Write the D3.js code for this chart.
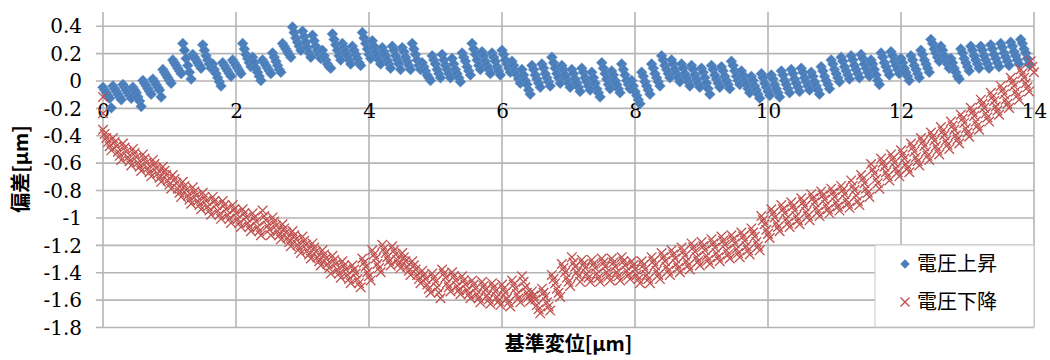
<!DOCTYPE html>
<html>
<head>
<meta charset="utf-8">
<script src="https://cdn.jsdelivr.net/npm/d3@7/dist/d3.min.js"></script>
<style>
  html, body { margin: 0; padding: 0; background: #ffffff; }
  #chart { width: 1050px; height: 360px; }
</style>
</head>
<body>
<div id="chart"></div>
<script>
// Displacement step of the measurement [μm]
const xStep = 0.025;
const xTicks = [0, 2, 4, 6, 8, 10, 12, 14];
const xTickLabels = ["0", "2", "4", "6", "8", "10", "12", "14"];
const yTicks = [0.4, 0.2, 0, -0.2, -0.4, -0.6, -0.8, -1, -1.2, -1.4, -1.6, -1.8];
const yTickLabels = ["0.4", "0.2", "0", "-0.2", "-0.4", "-0.6", "-0.8", "-1", "-1.2", "-1.4", "-1.6", "-1.8"];
const seriesNames = ["電圧上昇", "電圧下降"];

// 電圧上昇 (voltage rising), one value every 0.025 μm from 0 (12 values per line = 0.3 μm)
const riseValues = [
  -0.05, -0.07, -0.09, -0.11, -0.13, -0.2, -0.04, -0.06, -0.08, -0.1, -0.12, -0.14,
  -0.03, -0.05, -0.07, -0.09, -0.11, -0.13, -0.05, -0.07, -0.09, -0.12, -0.15, -0.19,
  0.0, -0.02, -0.04, -0.06, -0.08, -0.1, 0.01, -0.01, -0.03, -0.05, -0.07, -0.12,
  0.08, 0.06, 0.04, 0.02, 0.0, -0.02, 0.15, 0.13, 0.11, 0.09, 0.07, 0.05,
  0.27, 0.22, 0.16, 0.11, 0.06, 0.01, 0.19, 0.17, 0.15, 0.13, 0.11, 0.09,
  0.26, 0.22, 0.18, 0.15, 0.12, 0.09, 0.12, 0.08, 0.05, 0.02, -0.01, -0.04,
  0.13, 0.11, 0.09, 0.07, 0.05, 0.03, 0.15, 0.13, 0.11, 0.09, 0.07, 0.05,
  0.27, 0.23, 0.19, 0.16, 0.13, 0.1, 0.17, 0.13, 0.09, 0.06, 0.03, 0.0,
  0.15, 0.13, 0.11, 0.09, 0.07, 0.05, 0.2, 0.17, 0.14, 0.11, 0.08, 0.06,
  0.27, 0.25, 0.23, 0.21, 0.19, 0.17, 0.39, 0.35, 0.31, 0.28, 0.25, 0.22,
  0.36, 0.32, 0.28, 0.24, 0.2, 0.17, 0.33, 0.29, 0.25, 0.22, 0.19, 0.16,
  0.22, 0.18, 0.15, 0.12, 0.1, 0.09, 0.34, 0.3, 0.26, 0.22, 0.18, 0.15,
  0.27, 0.24, 0.21, 0.18, 0.15, 0.12, 0.25, 0.22, 0.19, 0.16, 0.13, 0.11,
  0.35, 0.31, 0.27, 0.23, 0.19, 0.16, 0.29, 0.25, 0.21, 0.18, 0.15, 0.12,
  0.24, 0.21, 0.18, 0.15, 0.12, 0.09, 0.25, 0.22, 0.18, 0.15, 0.12, 0.08,
  0.24, 0.21, 0.17, 0.14, 0.11, 0.08, 0.27, 0.23, 0.19, 0.15, 0.11, 0.08,
  0.13, 0.1, 0.07, 0.04, 0.02, 0.0, 0.18, 0.15, 0.12, 0.08, 0.05, 0.02,
  0.19, 0.15, 0.11, 0.08, 0.05, 0.02, 0.16, 0.12, 0.08, 0.05, 0.02, -0.01,
  0.2, 0.17, 0.14, 0.1, 0.07, 0.04, 0.27, 0.23, 0.19, 0.15, 0.11, 0.08,
  0.21, 0.18, 0.14, 0.11, 0.08, 0.05, 0.2, 0.17, 0.14, 0.1, 0.07, 0.04,
  0.22, 0.19, 0.15, 0.12, 0.09, 0.06, 0.14, 0.11, 0.07, 0.04, 0.01, -0.02,
  0.08, 0.04, 0.0, -0.03, -0.07, -0.1, 0.11, 0.08, 0.04, 0.01, -0.02, -0.05,
  0.12, 0.09, 0.05, 0.02, -0.01, -0.04, 0.17, 0.13, 0.09, 0.05, 0.02, -0.02,
  0.11, 0.08, 0.04, 0.01, -0.02, -0.05, 0.08, 0.05, 0.01, -0.02, -0.05, -0.08,
  0.09, 0.06, 0.02, -0.01, -0.04, -0.07, 0.06, 0.02, -0.02, -0.06, -0.09, -0.12,
  0.13, 0.09, 0.05, 0.01, -0.03, -0.06, 0.07, 0.04, 0.0, -0.03, -0.06, -0.09,
  0.12, 0.08, 0.04, 0.0, -0.03, -0.06, 0.0, -0.04, -0.08, -0.11, -0.14, -0.17,
  0.06, 0.03, -0.01, -0.04, -0.07, -0.1, 0.12, 0.09, 0.05, 0.02, -0.01, -0.04,
  0.18, 0.15, 0.11, 0.08, 0.05, 0.02, 0.15, 0.12, 0.08, 0.05, 0.02, -0.01,
  0.12, 0.09, 0.05, 0.02, -0.01, -0.04, 0.11, 0.08, 0.04, 0.01, -0.02, -0.05,
  0.09, 0.06, 0.02, -0.02, -0.06, -0.1, 0.11, 0.08, 0.04, 0.01, -0.02, -0.05,
  0.1, 0.07, 0.03, 0.0, -0.03, -0.06, 0.14, 0.11, 0.07, 0.03, 0.0, -0.03,
  0.07, 0.04, 0.0, -0.03, -0.06, -0.09, 0.03, 0.0, -0.04, -0.07, -0.1, -0.13,
  0.05, 0.02, -0.02, -0.05, -0.08, -0.11, 0.04, 0.01, -0.03, -0.06, -0.09, -0.12,
  0.07, 0.04, 0.0, -0.03, -0.06, -0.09, 0.08, 0.05, 0.01, -0.02, -0.05, -0.08,
  0.09, 0.06, 0.02, -0.01, -0.04, -0.07, 0.06, 0.03, -0.01, -0.04, -0.07, -0.1,
  0.1, 0.07, 0.03, 0.0, -0.03, -0.06, 0.15, 0.12, 0.08, 0.05, 0.02, -0.01,
  0.17, 0.14, 0.1, 0.07, 0.04, 0.01, 0.18, 0.15, 0.11, 0.08, 0.05, 0.02,
  0.19, 0.16, 0.12, 0.09, 0.06, 0.03, 0.15, 0.12, 0.08, 0.04, 0.0, -0.03,
  0.2, 0.17, 0.13, 0.1, 0.07, 0.04, 0.21, 0.18, 0.14, 0.11, 0.08, 0.05,
  0.16, 0.13, 0.09, 0.06, 0.03, 0.0, 0.18, 0.15, 0.11, 0.08, 0.05, 0.02,
  0.22, 0.19, 0.15, 0.12, 0.09, 0.06, 0.3, 0.27, 0.23, 0.2, 0.17, 0.14,
  0.25, 0.22, 0.18, 0.15, 0.12, 0.09, 0.16, 0.13, 0.09, 0.06, 0.03, 0.01,
  0.23, 0.2, 0.16, 0.13, 0.1, 0.07, 0.25, 0.22, 0.18, 0.15, 0.12, 0.09,
  0.25, 0.22, 0.18, 0.15, 0.12, 0.09, 0.26, 0.23, 0.19, 0.16, 0.13, 0.1,
  0.27, 0.24, 0.2, 0.17, 0.14, 0.11, 0.28, 0.25, 0.21, 0.18, 0.15, 0.12,
  0.3, 0.27, 0.23, 0.2, 0.16, 0.12
];

// 電圧下降 (voltage falling), one value every 0.025 μm from 0 (12 values per line = 0.3 μm)
const fallValues = [
  -0.36, -0.39, -0.42, -0.45, -0.48, -0.51, -0.42, -0.45, -0.48, -0.52, -0.55, -0.58,
  -0.46, -0.49, -0.52, -0.56, -0.59, -0.62, -0.5, -0.53, -0.56, -0.6, -0.63, -0.66,
  -0.54, -0.57, -0.6, -0.64, -0.67, -0.7, -0.58, -0.61, -0.64, -0.68, -0.71, -0.74,
  -0.63, -0.66, -0.69, -0.73, -0.76, -0.79, -0.69, -0.72, -0.75, -0.79, -0.82, -0.85,
  -0.74, -0.77, -0.8, -0.84, -0.87, -0.9, -0.78, -0.81, -0.84, -0.88, -0.91, -0.94,
  -0.82, -0.85, -0.88, -0.92, -0.95, -0.98, -0.85, -0.88, -0.91, -0.95, -0.98, -1.01,
  -0.88, -0.91, -0.94, -0.98, -1.01, -1.04, -0.91, -0.94, -0.97, -1.01, -1.04, -1.07,
  -0.94, -0.97, -1.0, -1.04, -1.07, -1.1, -0.97, -1.0, -1.03, -1.07, -1.1, -1.13,
  -0.95, -0.99, -1.02, -1.06, -1.09, -1.13, -1.0, -1.03, -1.06, -1.1, -1.13, -1.16,
  -1.05, -1.08, -1.11, -1.15, -1.18, -1.21, -1.1, -1.13, -1.16, -1.2, -1.23, -1.26,
  -1.14, -1.17, -1.2, -1.24, -1.27, -1.3, -1.19, -1.22, -1.25, -1.29, -1.32, -1.35,
  -1.24, -1.27, -1.3, -1.34, -1.37, -1.41, -1.28, -1.31, -1.34, -1.38, -1.41, -1.44,
  -1.32, -1.35, -1.38, -1.42, -1.45, -1.48, -1.35, -1.38, -1.41, -1.45, -1.48, -1.51,
  -1.3, -1.33, -1.36, -1.4, -1.43, -1.46, -1.24, -1.27, -1.3, -1.34, -1.37, -1.4,
  -1.2, -1.23, -1.26, -1.29, -1.32, -1.35, -1.21, -1.24, -1.27, -1.31, -1.34, -1.37,
  -1.26, -1.29, -1.32, -1.36, -1.39, -1.42, -1.32, -1.35, -1.38, -1.42, -1.45, -1.48,
  -1.39, -1.42, -1.45, -1.49, -1.52, -1.55, -1.41, -1.44, -1.47, -1.51, -1.55, -1.59,
  -1.38, -1.41, -1.44, -1.48, -1.51, -1.54, -1.4, -1.43, -1.46, -1.5, -1.53, -1.56,
  -1.43, -1.46, -1.49, -1.53, -1.56, -1.59, -1.46, -1.49, -1.52, -1.56, -1.59, -1.62,
  -1.47, -1.5, -1.53, -1.57, -1.6, -1.63, -1.48, -1.51, -1.54, -1.58, -1.61, -1.64,
  -1.49, -1.52, -1.55, -1.59, -1.62, -1.65, -1.46, -1.49, -1.52, -1.56, -1.59, -1.62,
  -1.43, -1.47, -1.51, -1.55, -1.58, -1.61, -1.54, -1.57, -1.6, -1.64, -1.67, -1.7,
  -1.52, -1.55, -1.58, -1.62, -1.65, -1.68, -1.42, -1.45, -1.48, -1.52, -1.55, -1.58,
  -1.34, -1.37, -1.4, -1.44, -1.47, -1.5, -1.29, -1.33, -1.36, -1.4, -1.43, -1.47,
  -1.31, -1.34, -1.37, -1.41, -1.44, -1.47, -1.31, -1.34, -1.37, -1.41, -1.44, -1.47,
  -1.3, -1.33, -1.36, -1.4, -1.43, -1.46, -1.3, -1.33, -1.36, -1.4, -1.43, -1.46,
  -1.29, -1.32, -1.35, -1.39, -1.42, -1.45, -1.32, -1.35, -1.38, -1.42, -1.45, -1.48,
  -1.32, -1.35, -1.38, -1.42, -1.45, -1.48, -1.29, -1.32, -1.35, -1.39, -1.42, -1.45,
  -1.26, -1.29, -1.32, -1.36, -1.39, -1.42, -1.24, -1.27, -1.3, -1.34, -1.37, -1.4,
  -1.22, -1.25, -1.28, -1.32, -1.35, -1.38, -1.19, -1.22, -1.25, -1.29, -1.32, -1.35,
  -1.18, -1.21, -1.24, -1.28, -1.31, -1.34, -1.16, -1.19, -1.22, -1.26, -1.29, -1.32,
  -1.14, -1.17, -1.2, -1.24, -1.27, -1.3, -1.13, -1.16, -1.19, -1.23, -1.26, -1.29,
  -1.11, -1.14, -1.17, -1.21, -1.24, -1.27, -1.08, -1.11, -1.14, -1.18, -1.21, -1.24,
  -0.99, -1.02, -1.05, -1.09, -1.12, -1.15, -0.94, -0.97, -1.0, -1.04, -1.07, -1.1,
  -0.91, -0.94, -0.97, -1.01, -1.04, -1.07, -0.89, -0.92, -0.95, -0.99, -1.02, -1.05,
  -0.86, -0.89, -0.92, -0.96, -0.99, -1.02, -0.83, -0.86, -0.89, -0.93, -0.96, -0.99,
  -0.81, -0.84, -0.87, -0.91, -0.94, -0.97, -0.79, -0.82, -0.85, -0.89, -0.92, -0.95,
  -0.77, -0.8, -0.83, -0.87, -0.9, -0.93, -0.73, -0.77, -0.8, -0.84, -0.88, -0.91,
  -0.69, -0.72, -0.75, -0.79, -0.82, -0.85, -0.61, -0.65, -0.68, -0.72, -0.75, -0.79,
  -0.57, -0.6, -0.63, -0.67, -0.7, -0.73, -0.54, -0.57, -0.6, -0.64, -0.67, -0.7,
  -0.51, -0.54, -0.57, -0.61, -0.64, -0.67, -0.46, -0.49, -0.52, -0.56, -0.59, -0.62,
  -0.42, -0.45, -0.48, -0.52, -0.55, -0.58, -0.38, -0.41, -0.44, -0.48, -0.51, -0.54,
  -0.34, -0.37, -0.4, -0.44, -0.47, -0.5, -0.3, -0.33, -0.36, -0.4, -0.43, -0.46,
  -0.25, -0.28, -0.31, -0.35, -0.38, -0.41, -0.2, -0.23, -0.26, -0.3, -0.33, -0.36,
  -0.14, -0.17, -0.2, -0.24, -0.27, -0.3, -0.09, -0.12, -0.15, -0.19, -0.22, -0.25,
  -0.04, -0.07, -0.1, -0.14, -0.17, -0.2, 0.02, -0.01, -0.04, -0.08, -0.11, -0.14,
  0.08, 0.05, 0.02, -0.02, -0.05, -0.08, 0.14, 0.1, 0.06
];
// extra falling readings taken while the displacement was still 0
const fallAtZero = [-0.12, -0.24];

const colors = { rise: "#4a7ebb", fall: "#c0504d", grid: "#b5b5b5", text: "#000000" };
const width = 1050;
const height = 360;
const margin = { top: 12, right: 16, bottom: 33, left: 103 };

function toPoints(values) {
  return values.map((v, i) => ({ x: +(i * xStep).toFixed(3), y: v }));
}

function renderChart() {
  const svg = d3.select("#chart")
    .append("svg")
    .attr("width", width)
    .attr("height", height)
    .attr("viewBox", `0 0 ${width} ${height}`)
    .style("display", "block")
    .style("background", "#ffffff");

  const x = d3.scaleLinear()
    .domain([0, 14])
    .range([margin.left, width - margin.right]);

  const y = d3.scaleLinear()
    .domain([-1.8, 0.5])
    .range([height - margin.bottom, margin.top]);

  const plotW = x(14) - x(0);
  const tickFont = "'DejaVu Serif', 'Liberation Serif', serif";
  const cjkFont = "'Noto Sans CJK JP', 'Noto Sans', sans-serif";

  // Vertical gridlines
  svg.append("g")
    .selectAll("line")
    .data(xTicks)
    .enter()
    .append("line")
    .attr("x1", d => x(d))
    .attr("x2", d => x(d))
    .attr("y1", y(0.5))
    .attr("y2", y(-1.8))
    .attr("stroke", colors.grid)
    .attr("stroke-width", 1.6);

  // y-axis with horizontal gridlines
  const yAxis = svg.append("g")
    .attr("transform", `translate(${x(0) - 7},0)`)
    .call(d3.axisLeft(y)
      .tickValues(yTicks)
      .tickSize(-(plotW + 7))
      .tickSizeOuter(0)
      .tickPadding(14)
      .tickFormat((d, i) => yTickLabels[i]));
  yAxis.select(".domain").remove();
  yAxis.selectAll("line")
    .attr("stroke", colors.grid)
    .attr("stroke-width", 1.6);
  yAxis.selectAll("text")
    .attr("dy", "0.36em")
    .style("font-family", tickFont)
    .style("font-size", "20px")
    .style("fill", colors.text);

  // x-axis labels sit under the zero line
  const xAxis = svg.append("g")
    .attr("transform", `translate(0,${y(0)})`)
    .call(d3.axisBottom(x)
      .tickValues(xTicks)
      .tickSize(0)
      .tickPadding(23)
      .tickFormat((d, i) => xTickLabels[i]));
  xAxis.select(".domain").remove();
  xAxis.selectAll("text")
    .style("font-family", tickFont)
    .style("font-size", "20px")
    .style("fill", colors.text);

  // Series markers
  const diamond = d3.symbol().type(d3.symbolSquare).size(60);
  const crossPath = "M-4.8,-4.8L4.8,4.8M-4.8,4.8L4.8,-4.8";

  svg.append("g")
    .selectAll("path")
    .data(toPoints(riseValues))
    .enter()
    .append("path")
    .attr("d", diamond)
    .attr("transform", d => `translate(${x(d.x)},${y(d.y)}) rotate(45)`)
    .attr("fill", colors.rise)
    .attr("stroke", "#6f99cc")
    .attr("stroke-width", 0.4);

  const fallPoints = fallAtZero.map(v => ({ x: 0, y: v })).concat(toPoints(fallValues));
  svg.append("g")
    .selectAll("path")
    .data(fallPoints)
    .enter()
    .append("path")
    .attr("d", crossPath)
    .attr("transform", d => `translate(${x(d.x)},${y(d.y)})`)
    .attr("fill", "none")
    .attr("stroke", colors.fall)
    .attr("stroke-width", 1.3);

  // Legend
  const legend = svg.append("g").attr("transform", "translate(875,245)");
  legend.append("rect")
    .attr("width", 159)
    .attr("height", 82)
    .attr("fill", "#ffffff")
    .attr("stroke", "#c8c8c8")
    .attr("stroke-width", 1);

  legend.append("path")
    .attr("d", d3.symbol().type(d3.symbolSquare).size(44)())
    .attr("transform", "translate(30,19) rotate(45)")
    .attr("fill", colors.rise);
  legend.append("path")
    .attr("d", "M-4.5,-4.5L4.5,4.5M-4.5,4.5L4.5,-4.5")
    .attr("transform", "translate(30,57)")
    .attr("fill", "none")
    .attr("stroke", colors.fall)
    .attr("stroke-width", 1.4);

  legend.selectAll("text.label")
    .data(seriesNames)
    .enter()
    .append("text")
    .attr("class", "label")
    .attr("x", 42)
    .attr("y", (d, i) => 19 + i * 38)
    .attr("dy", "0.36em")
    .style("font-family", cjkFont)
    .style("font-size", "20px")
    .style("fill", colors.text)
    .text(d => d);

  // Axis titles
  svg.append("text")
    .attr("x", (x(0) + x(14)) / 2)
    .attr("y", 344)
    .attr("dy", "0.36em")
    .attr("text-anchor", "middle")
    .style("font-family", cjkFont)
    .style("font-size", "20px")
    .style("font-weight", "bold")
    .style("fill", colors.text)
    .text("基準変位[μm]");

  svg.append("text")
    .attr("transform", "translate(21,169) rotate(-90)")
    .attr("dy", "0.36em")
    .attr("text-anchor", "middle")
    .style("font-family", cjkFont)
    .style("font-size", "20px")
    .style("font-weight", "bold")
    .style("fill", colors.text)
    .text("偏差[μm]");
}

renderChart();
</script>
</body>
</html>
